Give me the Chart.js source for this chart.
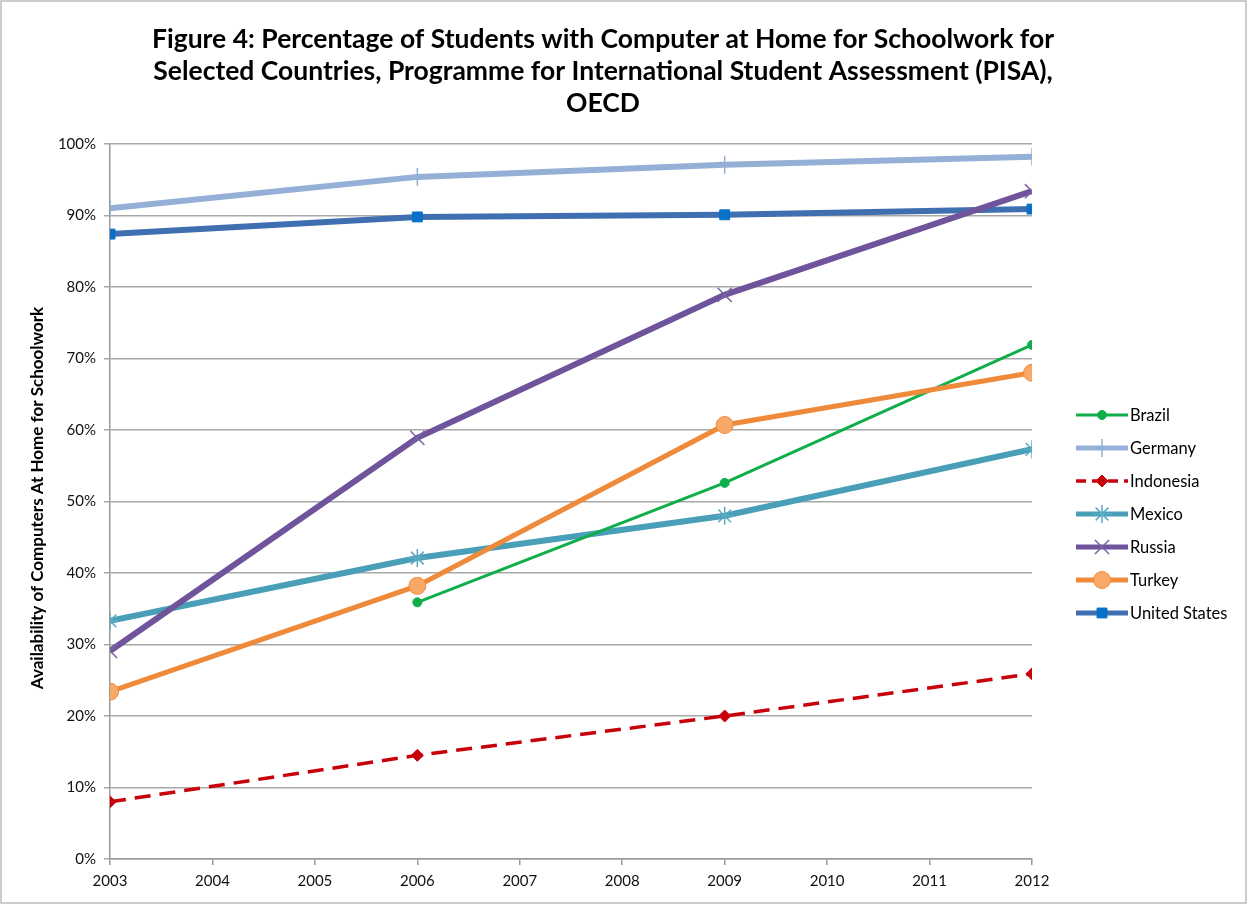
<!DOCTYPE html>
<html>
<head>
<meta charset="utf-8">
<script src="https://cdn.jsdelivr.net/npm/chart.js@4"></script>
<style>
  body { margin: 0; background: #fff; }
  canvas { display: block; }
</style>
</head>
<body>
<canvas id="pisa-chart" width="1247" height="904"></canvas>
<script>
const years = [2003, 2006, 2009, 2012];
const brazil = [null, 35.9, 52.6, 71.9];
const germany = [91.0, 95.4, 97.1, 98.2];
const indonesia = [8.0, 14.5, 20.0, 25.9];
const mexico = [33.3, 42.1, 48.0, 57.3];
const russia = [29.1, 58.9, 78.9, 93.4];
const turkey = [23.4, 38.2, 60.7, 68.0];
const unitedStates = [87.4, 89.8, 90.1, 90.9];

const titleLines = [
    'Figure 4: Percentage of Students with Computer at Home for Schoolwork for',
    'Selected Countries, Programme for International Student Assessment (PISA),',
    'OECD'
];
const yTitle = 'Availability of Computers At Home for Schoolwork';

function points(values) {
    return years.map(function (x, i) {
        return { x: x, y: values[i] };
    });
}

// title, y axis title, legend and frame
const decorations = {
    id: 'decorations',
    afterDraw: function (chart) {
        const ctx = chart.ctx;
        ctx.save();

        ctx.strokeStyle = '#bdbdbd';
        ctx.lineWidth = 1.5;
        ctx.strokeRect(1, 1, chart.width - 2, chart.height - 2);

        ctx.fillStyle = '#000';
        ctx.textAlign = 'center';
        ctx.textBaseline = 'middle';
        ctx.font = 'bold 26.5px Lato';
        titleLines.forEach(function (line, i) {
            ctx.fillText(line, 603, 39 + i * 32);
        });

        ctx.save();
        ctx.translate(38, 498);
        ctx.rotate(-Math.PI / 2);
        ctx.font = 'bold 17px Lato';
        ctx.fillText(yTitle, 0, 0);
        ctx.restore();

        // legend
        ctx.textAlign = 'left';
        ctx.font = '16.5px Lato';
        chart.data.datasets.forEach(function (ds, i) {
            const y = 415 + i * 33;
            ctx.save();
            ctx.strokeStyle = ds.borderColor;
            ctx.lineWidth = Math.min(ds.borderWidth, 5);
            ctx.setLineDash(ds.borderDash ? [10, 6] : []);
            ctx.beginPath();
            ctx.moveTo(1076, y);
            ctx.lineTo(1128, y);
            ctx.stroke();
            ctx.setLineDash([]);
            ctx.fillStyle = ds.pointBackgroundColor;
            ctx.strokeStyle = ds.pointBorderColor;
            ctx.lineWidth = ds.pointBorderWidth;
            Chart.helpers.drawPoint(ctx, {
                pointStyle: ds.pointStyle,
                radius: ds.pointRadius,
                borderWidth: ds.pointBorderWidth,
                rotation: 0
            }, 1102, y);
            ctx.restore();
            ctx.fillStyle = '#000';
            ctx.fillText(ds.label, 1130, y + 1);
        });

        ctx.restore();
    }
};

new Chart(document.getElementById('pisa-chart'), {
    type: 'line',
    data: {
        datasets: [
            {
                label: 'Brazil',
                data: points(brazil),
                borderColor: '#0fae4a',
                borderWidth: 3,
                pointStyle: 'circle',
                pointRadius: 4.5,
                pointBackgroundColor: '#0fae4a',
                pointBorderColor: '#0fae4a',
                pointBorderWidth: 1,
                order: 1
            },
            {
                label: 'Germany',
                data: points(germany),
                borderColor: '#95b0d6',
                borderWidth: 6,
                pointStyle: 'cross',
                pointRadius: 9,
                pointBackgroundColor: '#95b0d6',
                pointBorderColor: '#95b0d6',
                pointBorderWidth: 1.5,
                order: 6
            },
            {
                label: 'Indonesia',
                data: points(indonesia),
                borderColor: '#c8000a',
                borderWidth: 3.5,
                borderDash: [16, 9],
                pointStyle: 'rectRot',
                pointRadius: 6,
                pointBackgroundColor: '#c8000a',
                pointBorderColor: '#c8000a',
                pointBorderWidth: 1,
                order: 2
            },
            {
                label: 'Mexico',
                data: points(mexico),
                borderColor: '#4a9fb8',
                borderWidth: 6,
                pointStyle: 'star',
                pointRadius: 9,
                pointBackgroundColor: '#4a9fb8',
                pointBorderColor: '#5aa9c3',
                pointBorderWidth: 1.5,
                order: 4
            },
            {
                label: 'Russia',
                data: points(russia),
                borderColor: '#6f549b',
                borderWidth: 6,
                pointStyle: 'crossRot',
                pointRadius: 10,
                pointBackgroundColor: '#6f549b',
                pointBorderColor: '#7a62a6',
                pointBorderWidth: 1.5,
                order: 3
            },
            {
                label: 'Turkey',
                data: points(turkey),
                borderColor: '#ef8a3a',
                borderWidth: 5,
                pointStyle: 'circle',
                pointRadius: 8.5,
                pointBackgroundColor: '#f9a967',
                pointBorderColor: '#ec8a40',
                pointBorderWidth: 1,
                order: 0
            },
            {
                label: 'United States',
                data: points(unitedStates),
                borderColor: '#3f6fb0',
                borderWidth: 6,
                pointStyle: 'rect',
                pointRadius: 7,
                pointBackgroundColor: '#0870c8',
                pointBorderColor: '#0870c8',
                pointBorderWidth: 1,
                order: 5
            }
        ]
    },
    options: {
        responsive: false,
        animation: false,
        devicePixelRatio: 1,
        tension: 0,
        layout: {
            padding: { top: 144, right: 215, left: 0, bottom: 0 }
        },
        plugins: {
            legend: { display: false },
            title: { display: false },
            tooltip: { enabled: false }
        },
        scales: {
            x: {
                type: 'linear',
                min: 2003,
                max: 2012,
                afterFit: function (scale) { scale.height = 45; },
                ticks: {
                    stepSize: 1,
                    padding: 7,
                    color: '#111',
                    font: { family: 'Lato', size: 15 },
                    callback: function (v) { return String(v); }
                },
                grid: {
                    drawOnChartArea: false,
                    drawTicks: true,
                    tickLength: 6,
                    color: '#9a9a9a',
                    lineWidth: 1.5
                },
                border: { color: '#9a9a9a', width: 1.5 }
            },
            y: {
                min: 0,
                max: 100,
                afterFit: function (scale) { scale.width = 110; },
                ticks: {
                    stepSize: 10,
                    padding: 8,
                    color: '#111',
                    font: { family: 'Lato', size: 15 },
                    callback: function (v) { return v + '%'; }
                },
                grid: {
                    color: '#a8a8a8',
                    lineWidth: 1.5,
                    tickLength: 6
                },
                border: { color: '#9a9a9a', width: 1.5 }
            }
        }
    },
    plugins: [decorations]
});
</script>
</body>
</html>
